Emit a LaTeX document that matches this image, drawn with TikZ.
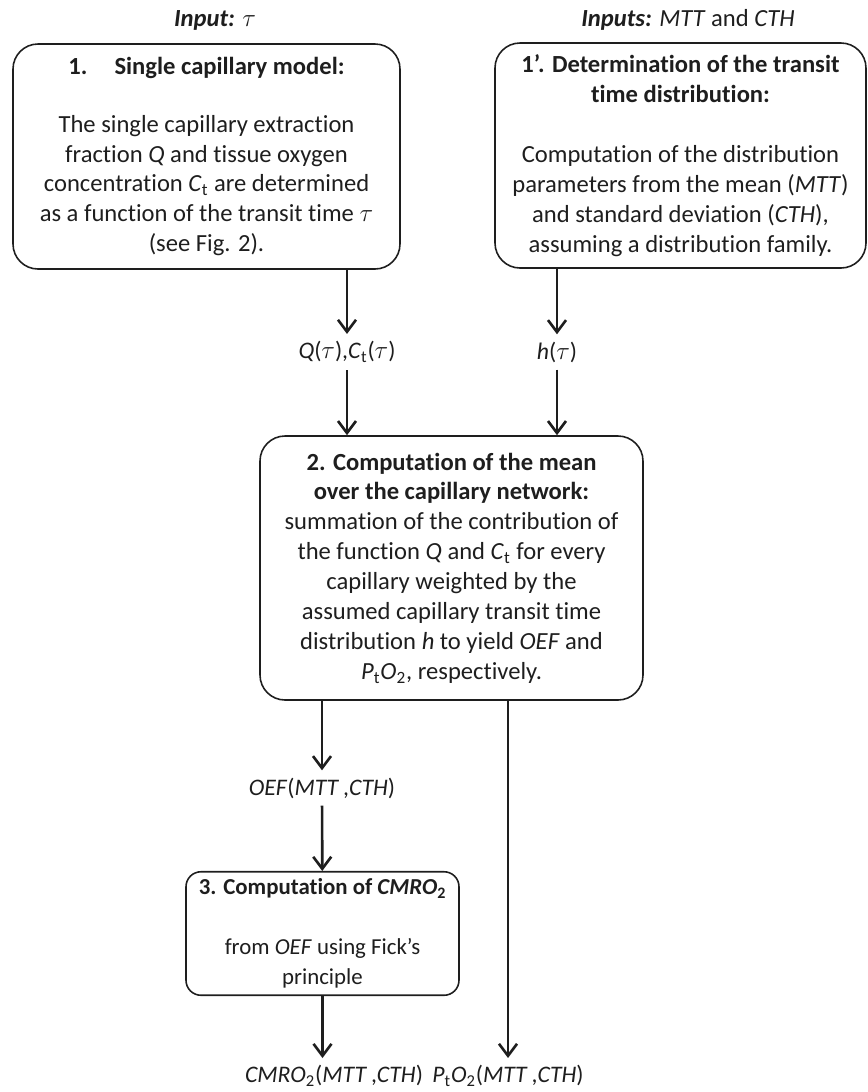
\documentclass[tikz,border=0pt]{standalone}
\usepackage{fontspec}
\setmainfont{Carlito}[Ligatures=NoCommon]
\usepackage{tikz}
\usetikzlibrary{arrows.meta}
\definecolor{flInk}{HTML}{1E1E1E}
\tikzset{
  fl diagram/.style={font=\fontsize{14}{17}\selectfont, text=flInk,
    line join=round},
  fl box/.style={draw=flInk, line width=0.9pt, rounded corners=0.5cm,
    align=center, inner sep=4pt},
  fl small box/.style={fl box, rounded corners=0.3cm,
    font=\fontsize{13}{17}\selectfont},
  fl arrow/.style={-{Straight Barb[length=2.4mm,width=3.6mm]}, draw=flInk,
    line width=1.5pt},
  fl label/.style={inner sep=4pt, font=\fontsize{13.5}{17}\selectfont}
}
\newcommand{\argpair}{(\textit{MTT}\,,\textit{CTH})}

\begin{document}
\begin{tikzpicture}[fl diagram]
\useasboundingbox (0,0) rectangle (17.36,-21.84);
% inputs
\node[inner sep=4pt] (inleft) at (4.30,-0.40) {\textbf{\textit{Input:}} $\tau$};
\node[inner sep=4pt] (inright) at (13.76,-0.40) {\textbf{\textit{Inputs:}} \textit{MTT} and \textit{CTH}};
% step 1 and 1'
\node[fl box,minimum width=7.74cm,minimum height=4.5cm] (single) at (4.13,-3.13)
  {\textbf{1.\hspace{1.1em}Single capillary model:}\\[0.56cm]
   The single capillary extraction\\
   fraction \textit{Q} and tissue oxygen\\
   concentration \textit{C}\textsubscript{t} are determined\\
   as a function of the transit time $\tau$\\
   (see Fig. 2).};
\node[fl box,minimum width=7.42cm,minimum height=4.5cm] (distrib) at (13.61,-3.11)
  {\textbf{1’. Determination of the transit}\\
   \textbf{time distribution:}\\[0.6cm]
   Computation of the distribution\\
   parameters from the mean (\textit{MTT})\\
   and standard deviation (\textit{CTH}),\\
   assuming a distribution family.};
\node[fl label] (qfun) at (6.94,-7.04) {\textit{Q}($\tau$),\textit{C}\textsubscript{t}($\tau$)};
\node[fl label] (hfun) at (11.14,-7.04) {\textit{h}($\tau$)};
% step 2
\node[fl box,minimum width=7.66cm,minimum height=5.28cm] (mean) at (9.03,-11.36)
  {\textbf{2. Computation of the mean}\\
   \textbf{over the capillary network:}\\
   summation of the contribution of\\
   the function \textit{Q} and \textit{C}\textsubscript{t} for every\\
   capillary weighted by the\\
   assumed capillary transit time\\
   distribution \textit{h} to yield \textit{OEF} and\\
   \textit{P}\textsubscript{t}\textit{O}\textsubscript{2}, respectively.};
\node[fl label] (oef) at (6.44,-15.76) {\textit{OEF}\argpair};
% step 3
\node[fl small box,minimum width=5.46cm,minimum height=2.46cm] (fick) at (6.45,-18.67)
  {\textbf{3. Computation of \textit{CMRO}\textsubscript{2}}\\[0.6cm]
   from \textit{OEF} using Fick’s\\
   principle};
\node[fl label] (cmro) at (6.68,-21.52) {\textit{CMRO}\textsubscript{2}\argpair};
\node[fl label] (ptox) at (10.16,-21.52) {\textit{P}\textsubscript{t}\textit{O}\textsubscript{2}\argpair};
% connectors
\draw[fl arrow] (single.south -| qfun) -- (qfun);
\draw[fl arrow] (distrib.south -| hfun) -- (hfun);
\draw[fl arrow] (qfun) -- (qfun |- mean.north);
\draw[fl arrow] (hfun) -- (hfun |- mean.north);
\draw[fl arrow] (mean.south -| oef) -- (oef);
\draw[fl arrow] (oef) -- (fick);
\draw[fl arrow] (fick) -- (fick |- cmro.north);
\draw[fl arrow] (mean.south -| ptox) -- (ptox);
\end{tikzpicture}
\end{document}
